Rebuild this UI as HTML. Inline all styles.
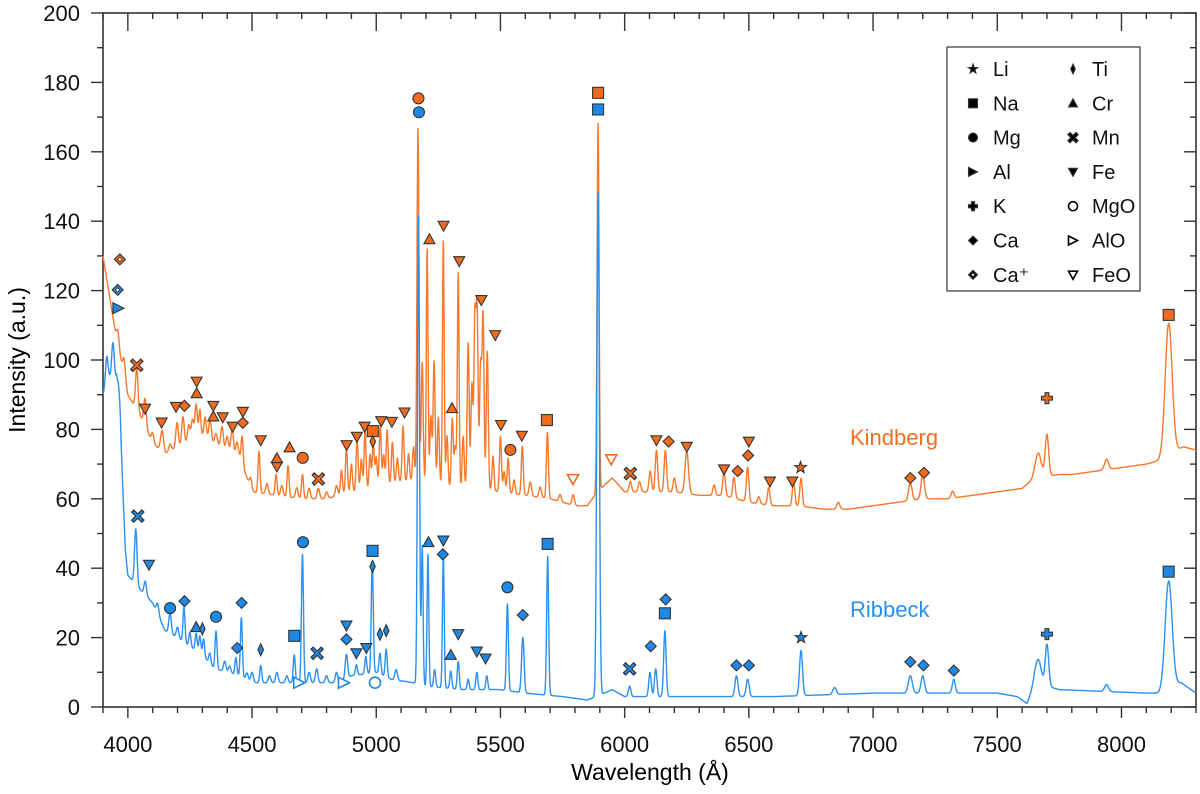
<!DOCTYPE html>
<html><head><meta charset="utf-8"><style>
html,body{margin:0;padding:0;background:#fff;}
svg{display:block;font-family:"Liberation Sans",Arial,sans-serif;}
</style></head><body>
<svg id="chart" width="1200" height="794" viewBox="0 0 1200 794" xmlns="http://www.w3.org/2000/svg">
<g id="axes"></g>
<g id="series"></g>
<g id="markers"></g>
<text x="850" y="445" font-size="22" fill="#f07020">Kindberg</text>
<text x="850" y="617" font-size="22" fill="#2b90f0">Ribbeck</text>
<text x="650" y="780" font-size="23" text-anchor="middle">Wavelength (Å)</text>
<text transform="translate(25,360) rotate(-90)" font-size="23" text-anchor="middle">Intensity (a.u.)</text>
<g id="legend"></g>
</svg>
<script>
// ---- data ----
const xTicks = [4000,4500,5000,5500,6000,6500,7000,7500,8000];
const yTicks = [0,20,40,60,80,100,120,140,160,180,200];
const kindbergBaseline = [[3900,130],[3950,108],[4000,90],[4050,84],[4100,76],[4150,73],[4200,75],[4300,78],[4400,74],[4450,72],[4500,62],[4600,61],[4700,60],[4800,60],[4850,61],[4900,62],[5000,63],[5100,65],[5150,65],[5200,64],[5300,63],[5400,63],[5500,62],[5600,61],[5700,60],[5800,58],[5850,58],[5890,62],[5950,66],[6000,62],[6100,62],[6200,62],[6300,61],[6400,61],[6500,59],[6600,58],[6700,58],[6800,57],[6900,57],[7000,58],[7100,59],[7200,60],[7300,60],[7400,61],[7500,62],[7600,63],[7650,66],[7750,67],[7800,67],[7900,68],[8000,69],[8100,70],[8150,71],[8250,75],[8300,74]];
const kindbergPeaks = [[3960,4,5],[3985,5,5],[4036,12,5],[4069,8,5],[4100,3,5],[4138,6,6],[4170,2,5],[4198,7,5],[4222,8,5],[4245,5,5],[4260,6,5],[4275,10,5],[4290,8,4],[4311,6,5],[4331,6,5],[4355,3,5],[4379,6,5],[4400,4,5],[4420,7,5],[4440,4,5],[4460,8,4],[4495,3,5],[4528,12,4],[4560,3,5],[4597,6,4],[4620,3,5],[4645,9,4],[4680,3,5],[4703,7,4],[4730,3,5],[4767,3,5],[4800,2,5],[4840,3,5],[4860,7,4],[4880,13,4],[4900,8,4],[4923,15,4],[4940,9,4],[4955,17,4],[4975,10,4],[4988,13,4],[5000,9,4],[5016,18,4],[5030,9,4],[5044,16,4],[5065,12,4],[5085,7,4],[5108,16,4],[5130,8,4],[5150,10,4],[5168,102,4],[5185,35,4],[5205,68,3.5],[5220,20,4],[5233,36,4],[5250,20,4],[5270,71,3.5],[5285,15,4],[5306,20,4],[5318,12,4],[5330,62,3.5],[5350,15,4],[5370,42,4],[5385,30,4],[5397,48,4],[5406,50,4],[5420,35,4],[5430,50,4],[5447,40,4],[5470,10,4],[5500,16,4],[5515,6,4],[5531,10,4],[5555,4,4],[5588,14,4],[5620,4,5],[5660,3,5],[5689,19,4],[5740,2,5],[5793,3,5],[5893,106,4],[6023,3,5],[6060,3,5],[6103,6,5],[6128,12,5],[6164,12,5],[6200,4,5],[6250,12,7],[6360,3,5],[6400,7,5],[6440,6,5],[6495,10,5],[6540,2,5],[6580,5,5],[6680,7,5],[6710,8,5],[6860,2,6],[7150,5,7],[7200,7,7],[7320,2,6],[7665,7,12],[7700,12,7],[7940,3,8],[8190,38,14]];
const ribbeckBaseline = [[3900,90],[3925,95],[3955,95],[3970,80],[3990,45],[4000,38],[4060,33],[4100,30],[4150,22],[4200,20],[4300,15],[4350,11],[4450,9],[4500,7],[4700,7],[4850,7],[4900,9],[5000,10],[5060,8],[5150,7],[5200,6],[5350,5],[5500,5],[5600,4],[5750,3],[5850,2],[5950,5],[6000,3],[6300,3],[6600,3],[7000,4],[7500,4],[7580,3],[7620,1],[7650,7],[7750,5],[8100,4],[8150,4],[8240,7],[8300,4]];
const ribbeckPeaks = [[3915,8,5],[3940,10,5],[3965,6,5],[4032,16,5],[4070,4,5],[4120,3,5],[4170,6,5],[4200,3,5],[4226,10,4],[4250,4,4],[4275,5,4],[4290,5,4],[4305,5,4],[4330,3,4],[4355,11,4],[4390,3,5],[4410,2,5],[4435,5,4],[4457,17,4],[4480,2,5],[4500,3,5],[4535,5,4],[4570,2,5],[4600,3,5],[4640,2,5],[4670,8,4],[4703,37,4],[4730,3,5],[4760,4,5],[4800,2,5],[4840,3,5],[4880,7,5],[4920,3,4],[4958,5,4],[4984,32,4],[5015,6,4],[5040,8,4],[5080,3,5],[5170,135,4],[5185,40,3.5],[5208,38,3.5],[5235,5,4],[5270,38,3.5],[5300,5,4],[5330,8,4],[5370,3,4],[5405,5,4],[5445,4,4],[5528,25,4],[5590,16,5],[5690,40,4],[5893,145,5],[6020,3,5],[6102,7,5],[6125,8,5],[6162,19,5],[6450,6,6],[6495,5,6],[6710,13,6],[6845,2,7],[7150,5,8],[7200,5,7],[7325,4,6],[7665,7,12],[7700,12,7],[7940,2,8],[8190,31,14]];
// markers: [symbol, wavelength, intensity]
const kindbergMarkers = [["Ca+",3968,129],["Mn",4036,98.5],["Fe",4069,86],["Fe",4136,82],["Fe",4194,86.5],["Ca",4228,86.8],["Fe",4277,93.8],["Cr",4277,90.4],["Fe",4344,86.8],["Cr",4344,83.7],["Fe",4382,83.5],["Fe",4422,80.8],["Fe",4463,85.1],["Ca",4463,81.9],["Fe",4535,76.9],["Fe",4600,69.3],["Cr",4600,71.7],["Cr",4651,74.8],["Mg",4704,71.8],["Mn",4767,65.7],["Fe",4881,75.5],["Fe",4922,77.9],["Fe",4953,80.8],["Na",4986,79.5],["Ti",4986,76.5],["Fe",5020,82.4],["Fe",5063,82.2],["Fe",5114,84.9],["Mg",5170,175.4],["Cr",5214,134.8],["Fe",5271,138.7],["Cr",5305,86.1],["Fe",5334,128.5],["Fe",5423,117.3],["Fe",5479,107.2],["Fe",5502,81.3],["Mg",5540,74.1],["Fe",5586,78.2],["Na",5687,82.7],["FeO",5792,65.7],["Na",5893,177],["FeO",5946,71.4],["Mn",6023,67.3],["Fe",6128,76.9],["Ca",6177,76.5],["Fe",6250,75],["Fe",6400,68.5],["Ca",6455,68],["Fe",6500,76.5],["Ca",6497,72.5],["Fe",6585,65],["Fe",6675,65],["Li",6708,69],["Ca",7150,66],["Ca",7205,67.5],["K",7700,89],["Na",8190,113]];
const ribbeckMarkers = [["Ca+",3959,120.2],["Al",3962,114.9],["Mn",4040,55],["Fe",4085,41],["Mg",4170,28.5],["Ca",4228,30.5],["Cr",4275,23],["Ti",4300,22.5],["Mg",4355,26],["Ca",4440,17],["Ca",4458,30],["Ti",4535,16.5],["Na",4670,20.5],["AlO",4690,7],["Mg",4705,47.5],["Mn",4762,15.5],["AlO",4870,7],["Fe",4880,23.5],["Ca",4880,19.5],["Fe",4920,15.5],["Fe",4960,17],["MgO",4995,7],["Na",4985,45],["Ti",4985,40.5],["Ti",5015,21],["Ti",5040,22],["Mg",5172,171.4],["Cr",5210,47.5],["Fe",5270,48],["Ca",5268,44],["Cr",5300,15],["Fe",5330,21],["Fe",5405,16],["Fe",5440,14],["Mg",5528,34.5],["Ca",5590,26.5],["Na",5690,47],["Na",5893,172.2],["Mn",6020,11],["Ca",6105,17.5],["Na",6162,27],["Ca",6165,31],["Ca",6450,12],["Ca",6500,12],["Li",6710,20],["Ca",7150,13],["Ca",7203,12],["Ca",7325,10.5],["K",7700,21],["Na",8190,39]];
const legendLeft = [["Li","Li"],["Na","Na"],["Mg","Mg"],["Al","Al"],["K","K"],["Ca","Ca"],["Ca+","Ca⁺"]];
const legendRight = [["Ti","Ti"],["Cr","Cr"],["Mn","Mn"],["Fe","Fe"],["MgO","MgO"],["AlO","AlO"],["FeO","FeO"]];

// ---- scales ----
const X0=103,X1=1196,Y0=707,Y1=13,XMIN=3900,XMAX=8300,YMIN=0,YMAX=200;
const sx=v=>X0+(v-XMIN)/(XMAX-XMIN)*(X1-X0);
const sy=v=>Y0-(v-YMIN)/(YMAX-YMIN)*(Y0-Y1);
const NS="http://www.w3.org/2000/svg";
function mk(tag,attrs,parent){const e=document.createElementNS(NS,tag);for(const k in attrs)e.setAttribute(k,attrs[k]);parent.appendChild(e);return e;}

// ---- axes ----
const ax=document.getElementById('axes');
const frame=mk('rect',{x:X0,y:Y1,width:X1-X0,height:Y0-Y1,fill:'none',stroke:'#333','stroke-width':1.6},ax);


for(let v=XMIN;v<=XMAX;v+=100){
  const maj=v%500===0,x=sx(v);
  const t=mk('line',{x1:x,x2:x,y1:Y0,y2:Y0+(maj?11:6),stroke:'#333','stroke-width':1.4},ax);
  
  
  mk('line',{x1:x,x2:x,y1:Y1,y2:Y1+(maj?18:6),stroke:'#333','stroke-width':1.4},ax);
}
xTicks.forEach(v=>{const t=mk('text',{x:sx(v),y:752,'font-size':22,'text-anchor':'middle',fill:'#111'},ax);t.textContent=v;
  
  });
for(let v=YMIN;v<=YMAX;v+=10){
  const maj=v%20===0,y=sy(v);
  const t=mk('line',{x1:X0-(maj?12:6),x2:X0,y1:y,y2:y,stroke:'#333','stroke-width':1.4},ax);
  
  
  mk('line',{x1:X1-(maj?12:6),x2:X1,y1:y,y2:y,stroke:'#333','stroke-width':1.4},ax);
}
yTicks.forEach(v=>{const t=mk('text',{x:80,y:sy(v)+8,'font-size':22,'text-anchor':'end',fill:'#111'},ax);t.textContent=v;
  
  });

// ---- series ----
function interp(base,l){for(let i=1;i<base.length;i++){if(l<=base[i][0]){const a=base[i-1],b=base[i];return a[1]+(b[1]-a[1])*(l-a[0])/(b[0]-a[0]);}}return base[base.length-1][1];}
function spectrum(base,peaks){const pts=[];for(let l=XMIN;l<=XMAX;l+=1){let v=interp(base,l);for(const p of peaks){const d=(l-p[0])/p[2];if(Math.abs(d)<5)v+=p[1]*Math.exp(-0.5*d*d);}pts.push(sx(l).toFixed(1)+','+sy(v).toFixed(1));}return pts.join(' ');}
const sg=document.getElementById('series');
const ob=mk('polyline',{points:spectrum(kindbergBaseline,kindbergPeaks),fill:'none',stroke:'#f7782a','stroke-width':1.4,'stroke-linejoin':'round'},sg);


const bb=mk('polyline',{points:spectrum(ribbeckBaseline,ribbeckPeaks),fill:'none',stroke:'#2b90f0','stroke-width':1.4,'stroke-linejoin':'round'},sg);



// ---- markers ----
function drawSym(sym,x,y,fill,parent,r){
  r=r||5.5;const st='#333',sw=1.1;
  const openFill='#fff';
  switch(sym){
    case 'Li':{let p=[];for(let i=0;i<10;i++){const a=-Math.PI/2+i*Math.PI/5,rr=i%2?r*0.45:r*1.1;p.push((x+rr*Math.cos(a)).toFixed(1)+','+(y+rr*Math.sin(a)).toFixed(1));}return mk('polygon',{points:p.join(' '),fill,stroke:st,'stroke-width':sw},parent);}
    case 'Na':return mk('rect',{x:x-r,y:y-r,width:2*r,height:2*r,fill,stroke:st,'stroke-width':sw},parent);
    case 'Mg':return mk('circle',{cx:x,cy:y,r:r,fill,stroke:st,'stroke-width':sw},parent);
    case 'Al':return mk('polygon',{points:`${x-r},${y-r} ${x+r},${y} ${x-r},${y+r}`,fill,stroke:st,'stroke-width':sw},parent);
    case 'K':{const a=r*0.35;return mk('polygon',{points:`${x-a},${y-r} ${x+a},${y-r} ${x+a},${y-a} ${x+r},${y-a} ${x+r},${y+a} ${x+a},${y+a} ${x+a},${y+r} ${x-a},${y+r} ${x-a},${y+a} ${x-r},${y+a} ${x-r},${y-a} ${x-a},${y-a}`,fill,stroke:st,'stroke-width':sw},parent);}
    case 'Ca':return mk('polygon',{points:`${x},${y-r} ${x+r},${y} ${x},${y+r} ${x-r},${y}`,fill,stroke:st,'stroke-width':sw},parent);
    case 'Ca+':{const g=mk('g',{},parent);mk('polygon',{points:`${x},${y-r} ${x+r},${y} ${x},${y+r} ${x-r},${y}`,fill,stroke:st,'stroke-width':sw},g);const q=r*0.4;mk('polygon',{points:`${x},${y-q} ${x+q},${y} ${x},${y+q} ${x-q},${y}`,fill:'#fff',stroke:st,'stroke-width':0.8},g);return g;}
    case 'Ti':return mk('polygon',{points:`${x},${y-r*1.1} ${x+r*0.5},${y} ${x},${y+r*1.1} ${x-r*0.5},${y}`,fill,stroke:st,'stroke-width':sw},parent);
    case 'Cr':return mk('polygon',{points:`${x-r},${y+r*0.8} ${x+r},${y+r*0.8} ${x},${y-r}`,fill,stroke:st,'stroke-width':sw},parent);
    case 'Mn':{const g=mk('g',{},parent);mk('path',{d:`M${x-r},${y-r}L${x+r},${y+r}M${x+r},${y-r}L${x-r},${y+r}`,stroke:st,'stroke-width':4.2},g);mk('path',{d:`M${x-r+1},${y-r+1}L${x+r-1},${y+r-1}M${x+r-1},${y-r+1}L${x-r+1},${y+r-1}`,stroke:fill,'stroke-width':2},g);return g;}
    case 'Fe':return mk('polygon',{points:`${x-r},${y-r*0.8} ${x+r},${y-r*0.8} ${x},${y+r}`,fill,stroke:st,'stroke-width':sw},parent);
    case 'MgO':return mk('circle',{cx:x,cy:y,r:r,fill:openFill,stroke:fill,'stroke-width':1.6},parent);
    case 'AlO':return mk('polygon',{points:`${x-r},${y-r} ${x+r},${y} ${x-r},${y+r}`,fill:openFill,stroke:fill,'stroke-width':1.6},parent);
    case 'FeO':return mk('polygon',{points:`${x-r},${y-r*0.8} ${x+r},${y-r*0.8} ${x},${y+r}`,fill:openFill,stroke:fill,'stroke-width':1.6},parent);
  }
}
const mg=document.getElementById('markers');
kindbergMarkers.forEach(m=>{const e=drawSym(m[0],sx(m[1]),sy(m[2]),'#f26b1d',mg);
  
  });
ribbeckMarkers.forEach(m=>{const e=drawSym(m[0],sx(m[1]),sy(m[2]),'#1e88e5',mg);
  
  });

// ---- legend ----
const lg=document.getElementById('legend');
const lb=mk('rect',{x:947,y:47,width:193,height:244,fill:'#fff',stroke:'#333','stroke-width':1.2},lg);


function legendCol(items,sxp,tx){items.forEach((it,i)=>{const y=69+i*34.3;
  const s=drawSym(it[0],sxp,y,'#000',lg,4.5);
  
  
  const t=mk('text',{x:tx,y:y+7,'font-size':20,fill:'#111'},lg);t.textContent=it[1];
  
  });}
legendCol(legendLeft,973,993);
legendCol(legendRight,1073,1092);
</script>
</body></html>
